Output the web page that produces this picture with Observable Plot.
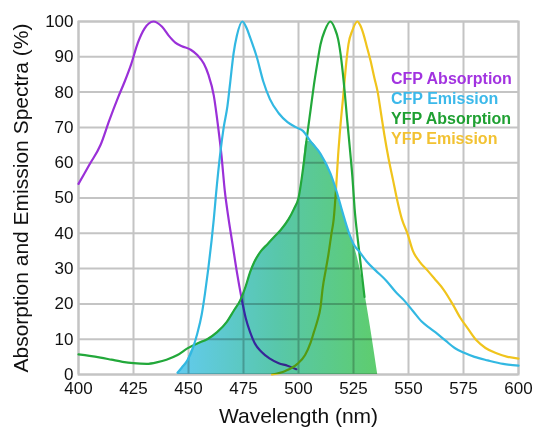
<!DOCTYPE html>
<html>
<head>
<meta charset="utf-8">
<script src="https://cdn.jsdelivr.net/npm/d3@7"></script>
<script src="https://cdn.jsdelivr.net/npm/@observablehq/plot@0.6"></script>
<style>
  html, body { margin: 0; padding: 0; background: #fff; }
  #wrap { position: relative; width: 536px; height: 428px; font-family: "Liberation Sans", Arial, sans-serif; }
  #legend { position: absolute; left: 391px; top: 69px; font-weight: bold; font-size: 16px; line-height: 20px; }
</style>
</head>
<body>
<div id="wrap"><div id="legend"></div></div>
<script>
const seriesNames = ["CFP Absorption", "CFP Emission", "YFP Absorption", "YFP Emission"];
const seriesColors = ["#9a30d8", "#32b8e2", "#22a83a", "#f0c41c"];
const legendColors = ["#a233e0", "#3cb9ea", "#1fa032", "#f2c232"];
const xTicks = [400, 425, 450, 475, 500, 525, 550, 575, 600];
const yTicks = [0, 10, 20, 30, 40, 50, 60, 70, 80, 90, 100];

const cfpAbsX = [400,405,410,414,418,421,424,427,430,434,438,441,444,447,451,454,457,459,461.5,463.5,465,466.5,468,470,472,474,476,478,480,483,487,491,495,499];
const cfpAbsY = [54,59.5,65,72,78.5,83,88,94,98,100,98.5,96,94,93,92,90.5,88,85,79,70,62,52,45,37,29,22,16,12,9,6.5,4.5,3.2,2.5,1.5];

const cfpEmX = [445,447,449.5,452,454,456,457.5,459,460.5,461.5,462.5,464.5,466,467.7,469,470.5,472,474.5,476.5,478,481,484,487,491,495,499,502,505.5,510,514.5,517.5,520,523,525,528,531,535,540,544,548,552,556,560,563,567,571,575,580,586,593,600];
const cfpEmY = [0.5,2,4,7.5,11.6,17,23,30,38,44,51,63,70,76,83,91,96,100,98,95.5,90,83,78,74,71.5,70,69,66,62.5,57,51.5,46,40,37,34.5,32,29.5,26.5,23.5,21,18,15,13,11.6,9.5,7.5,6.2,5,4,3,2.5];

const yfpAbsX = [400,405,410,415,420,425,431,436,440,445,449.5,454,458.5,463,467.5,470.5,473.5,476,478,480,483,486,489,492,495.5,498,500,502,504,505.5,507,508.5,510,512,514.5,516.5,518,519.5,521,522,523.5,524.5,525.5,527,528.5,530];
const yfpAbsY = [5.7,5.3,4.8,4.2,3.6,3.2,3,3.5,4.2,5.5,7.4,8.8,10,12,15,18,21,25,29,32,35,37,39,41,44,47,50,58,68,75,82,88,93.5,97.5,100,98,95,89,80,73,63,56,47,38,30,22];

const yfpEmX = [488,494,499.5,503,505.5,507,508.5,510,511,512.5,513.6,515,516,517,518,519,520.5,521.5,522.7,524.5,526.8,528,529.5,531,532.7,534.5,536,537.5,539,541,543,545,547,549.5,552,555,558.6,562,566,570,573.6,577,581,585,590,595,600];
const yfpEmY = [0,1,3,5.5,9,12,15,19,24.5,30,34,40,44,52,62,70,80,87,93.5,97.5,100,99,96.5,93,89,84,80,74,68,61,55,49,44,40,35,32,29.5,27,24,20,16,13,9.6,7.5,6,5,4.5];

const overlapX = [445,447,449.5,451,454,458.5,463,467.5,470.5,473.5,476,478,480,483,486,489,492,495.5,498,500,502,503.5,505.5,510,514.5,517.5,520,523,525,536];
const overlapY = [0,2,4,6.5,8.8,10,12,15,18,21,25,29,32,35,37,39,41,44,47,50,58,66,66,62.5,57,51.5,46,40,37,0];

const toRows = (xs, ys) => xs.map((x, i) => ({x, y: ys[i]}));
const cfpAbs = toRows(cfpAbsX, cfpAbsY);
const cfpEm = toRows(cfpEmX, cfpEmY);
const yfpAbs = toRows(yfpAbsX, yfpAbsY);
const yfpEm = toRows(yfpEmX, yfpEmY);
const overlap = toRows(overlapX, overlapY);

const lineOpts = (c) => ({x: "x", y: "y", stroke: c, strokeWidth: 2.2, curve: "monotone-x"});

const chart = Plot.plot({
  width: 536,
  height: 428,
  marginLeft: 78,
  marginRight: 18,
  marginTop: 21,
  marginBottom: 54,
  style: {fontFamily: "Liberation Sans, Arial, sans-serif", background: "#fff", color: "#111"},
  x: {domain: [400, 600]},
  y: {domain: [0, 100]},
  marks: [
    Plot.gridX(xTicks, {stroke: "#c4c4c4", strokeOpacity: 1, strokeWidth: 2}),
    Plot.gridY(yTicks, {stroke: "#c4c4c4", strokeOpacity: 1, strokeWidth: 2}),
    Plot.frame({stroke: "#c4c4c4", strokeWidth: 2}),
    Plot.line(cfpAbs, lineOpts(seriesColors[0])),
    Plot.line(yfpEm, lineOpts(seriesColors[3])),
    Plot.areaY(overlap, {x: "x", y: "y", fill: "url(#ovgrad)", curve: "monotone-x", mixBlendMode: "multiply"}),
    Plot.line(yfpAbs, lineOpts(seriesColors[2])),
    Plot.line(cfpEm, lineOpts(seriesColors[1])),
    Plot.axisX({ticks: xTicks, tickSize: 0, tickPadding: 7, fontSize: 17, label: "Wavelength (nm)", labelAnchor: "center", labelArrow: "none", labelOffset: 48}),
    Plot.axisY({ticks: yTicks, tickSize: 0, tickPadding: 5, fontSize: 17, label: "Absorption and Emission Spectra (%)", labelAnchor: "center", labelArrow: "none", labelOffset: 65})
  ]
});

chart.insertAdjacentHTML("afterbegin",
  '<defs><linearGradient id="ovgrad" x1="0" x2="1" y1="0" y2="0">' +
  '<stop offset="0" stop-color="#62cbee"/>' +
  '<stop offset="0.5" stop-color="#58c7aa"/>' +
  '<stop offset="1" stop-color="#5ecd6e"/>' +
  '</linearGradient></defs>');

chart.querySelectorAll("g[aria-label='x-axis label'] text, g[aria-label='y-axis label'] text").forEach(t => t.setAttribute("font-size", "21"));

document.getElementById("wrap").prepend(chart);
const legend = document.getElementById("legend");
seriesNames.forEach((n, i) => {
  const d = document.createElement("div");
  d.textContent = n;
  d.style.color = legendColors[i];
  legend.appendChild(d);
});
</script>
</body>
</html>
